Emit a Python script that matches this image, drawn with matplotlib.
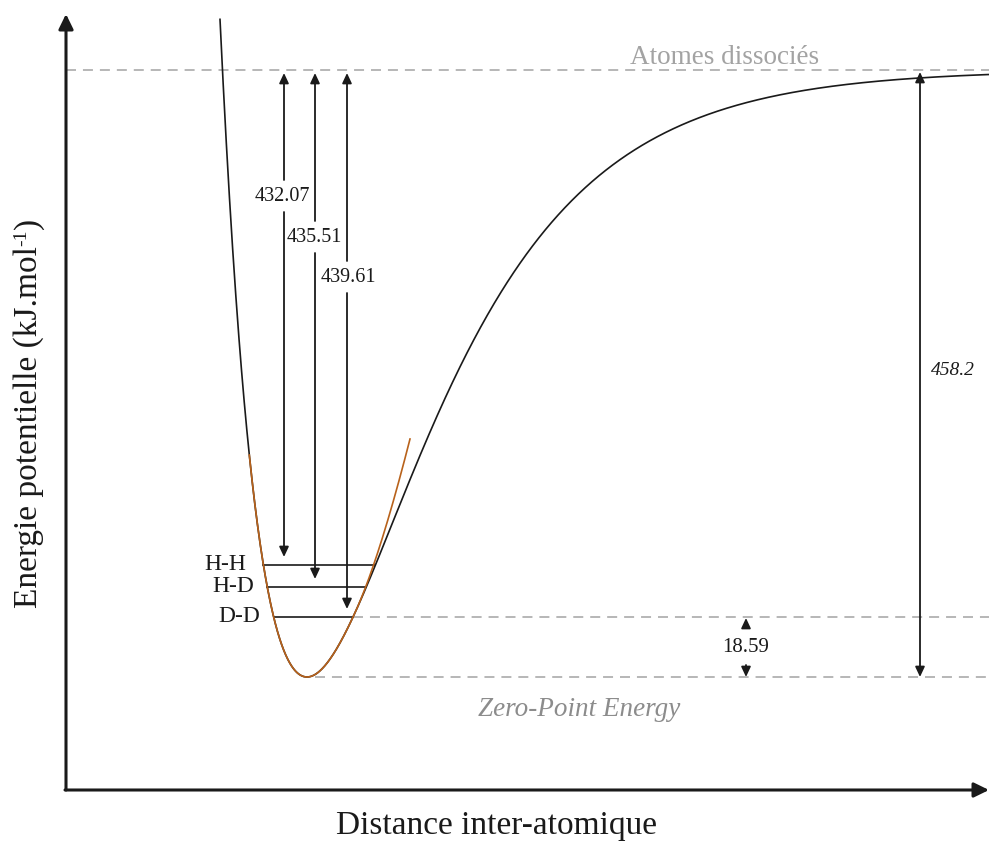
import matplotlib
matplotlib.use('Agg')
import matplotlib.pyplot as plt
import numpy as np

plt.rcParams['font.family'] = ['Liberation Serif', 'DejaVu Serif']
plt.rcParams['lines.scale_dashes'] = False

# data
levels = ['H-H', 'H-D', 'D-D']
level_height = [112, 90, 60]          # schematic height of v=0 level above well bottom (px)
dissoc_energy = [432.07, 435.51, 439.61]
well_depth = 458.2
zpe_gap = 18.59

# Morse shape (schematic, drawing units = px)
DE = 607.0
A = 0.0082
X0 = 307.0
Y_BOTTOM = 677.0
Y_TOP = Y_BOTTOM - DE

BLACK = '#1a1a1a'
ORANGE = '#b8621b'
GREY = '#a3a3a3'

def morse(x):
    return DE * (1 - np.exp(-A * (x - X0))) ** 2

def morse_x(e, side):
    r = np.sqrt(e / DE)
    return X0 - np.log(1 + r) / A if side < 0 else X0 - np.log(1 - r) / A

fig = plt.figure(figsize=(9.89, 8.41), dpi=100)
ax = fig.add_axes([0, 0, 1, 1])
ax.set_xlim(0, 989)
ax.set_ylim(841, 0)
ax.axis('off')

def arrow(x1, y1, x2, y2, style='-|>', hl=0.3, hw=0.14, lw=1.3):
    ax.annotate('', xy=(x2, y2), xytext=(x1, y1),
                arrowprops=dict(arrowstyle=f'{style},head_length={hl},head_width={hw}',
                                color=BLACK, lw=lw, shrinkA=0, shrinkB=0, mutation_scale=20))

# axes arrows
arrow(66, 790, 66, 14, hl=0.45, hw=0.22, lw=2.2)
arrow(65, 790, 989, 790, hl=0.45, hw=0.22, lw=2.2)
ax.text(497, 826, 'Distance inter-atomique', ha='center', va='center', fontsize=24, color=BLACK)

# y label built from pieces so the superscript keeps a plain hyphen
renderer = fig.canvas.get_renderer()
parts = [('Energie potentielle (kJ.mol', 24, 0), ('-1', 14, -11), (')', 24, 0)]
ylab = []
pos = 0.0
for s, fs, dx in parts:
    t = ax.text(37 + dx, pos, s, rotation=90, rotation_mode='anchor', ha='left',
                va='baseline', fontsize=fs, color=BLACK)
    ylab.append(t)
    pos -= t.get_window_extent(renderer).height
shift = 413 - pos / 2
for t in ylab:
    px, py = t.get_position()
    t.set_position((px, py + shift))

# dashed guides
dash = dict(color=GREY, lw=1.1, dashes=(7.2, 5))
ax.plot([66, 989], [Y_TOP, Y_TOP], **dash)
ax.plot([morse_x(level_height[2], 1), 989], [Y_BOTTOM - level_height[2]] * 2, **dash)
ax.plot([315, 989], [Y_BOTTOM, Y_BOTTOM], **dash)
ax.text(725, 57, 'Atomes dissociés', ha='center', va='center', fontsize=19.5, color=GREY)
ax.text(579, 709, 'Zero-Point Energy', ha='center', va='center', fontsize=19.5,
        style='italic', color='#8c8c8c')

# Morse curve
x = np.linspace(200, 989, 1500)
y = Y_BOTTOM - morse(x)
y[y < 15] = np.nan
ax.plot(x, y, color=BLACK, lw=1.2, zorder=3)

# harmonic approximation (orange): hugs the well, steeper above the H-H level
x1 = 355.0
xo = np.linspace(morse_x(222, -1), 410, 400)
c = (238 - morse(410)) / (410 - x1) ** 2
yo = Y_BOTTOM - (morse(xo) + c * np.clip(xo - x1, 0, None) ** 2)
ax.plot(xo, yo, color=ORANGE, lw=1.2, zorder=4)

# vibrational levels and dissociation arrows (split around their labels)
arrow_x = [284, 315, 347]
label_x = [282, 314, 348]
label_y = [196, 237, 277]
label_right = [246, 254, 260]
gap = 16
for name, h, d, axx, lx, ly, lr in zip(levels, level_height, dissoc_energy, arrow_x,
                                         label_x, label_y, label_right):
    yl = Y_BOTTOM - h
    ax.plot([morse_x(h, -1), morse_x(h, 1)], [yl, yl], color=BLACK, lw=1.2, zorder=3)
    ax.text(lr, yl, name, ha='right', va='center', fontsize=17, color=BLACK)
    arrow(axx, ly - gap, axx, Y_TOP + 3)
    arrow(axx, ly + gap, axx, yl - 8)
    ax.text(lx, ly, f'{d:.2f}', ha='center', va='center', fontsize=14.5, color=BLACK)

# well depth arrow
arrow(920, Y_BOTTOM, 920, Y_TOP + 2, style='<|-|>')
ax.text(931, 370, f'{well_depth}', ha='left', va='center', fontsize=14, style='italic', color=BLACK)

# zero-point gap
yd = Y_BOTTOM - level_height[2]
arrow(746, yd + 10, 746, yd + 1)
arrow(746, Y_BOTTOM - 12, 746, Y_BOTTOM)
ax.text(746, 647, f'{zpe_gap:.2f}', ha='center', va='center', fontsize=15, color=BLACK)

plt.savefig('out.png', dpi=100, facecolor='white')
plt.close()
